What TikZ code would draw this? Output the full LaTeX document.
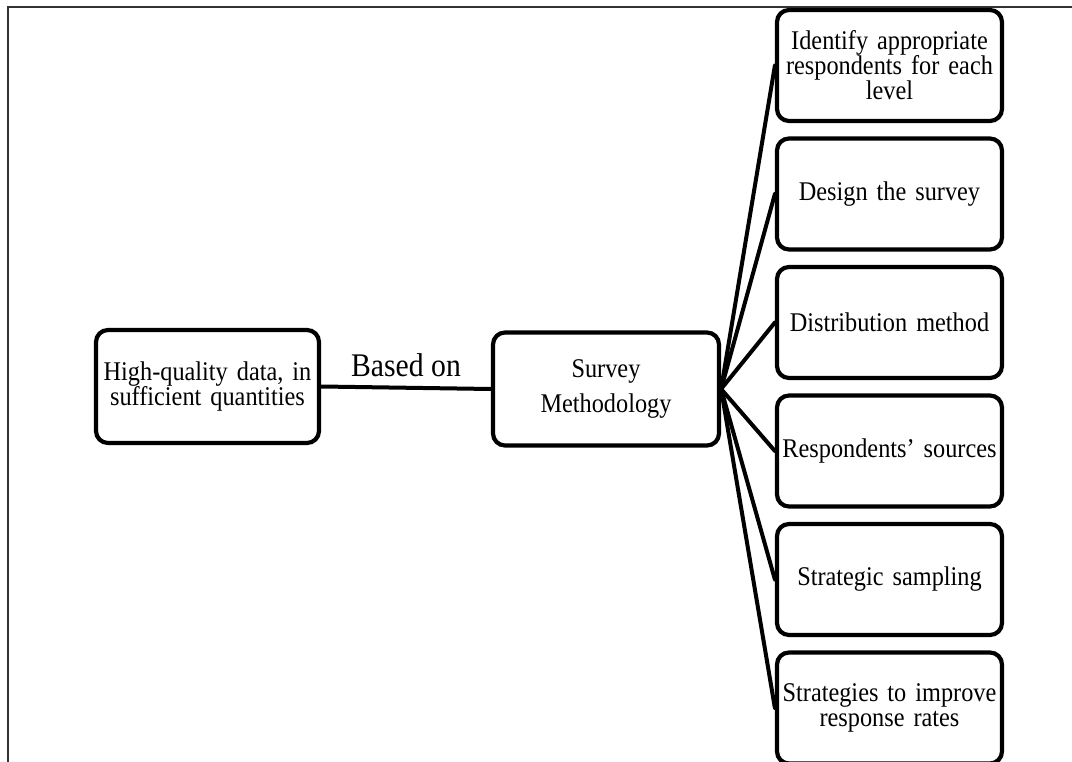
\documentclass[tikz,border=0pt]{standalone}
\usepackage{fontspec}
\setmainfont{Liberation Serif}[FakeStretch=0.9]
\begin{document}
\begin{tikzpicture}[x=1pt,y=-1pt,
  box/.style={draw=black, line width=4.2pt, rounded corners=12pt, fill=white,
    align=center, inner sep=4pt, font=\fontsize{27}{25}\selectfont},
  stepbox/.style={box, minimum width=225pt, minimum height=111pt, text width=215pt},
  link/.style={draw=black, line width=4pt, line cap=round}]
  \useasboundingbox (0,0) rectangle (1072,762);
  \clip (0,0) rectangle (1072,762);
  % outer frame
  \draw[line width=2pt, black!80] (8,770) -- (8,7) -- (1080,7);

  % main nodes
  \node[box, minimum width=221pt, minimum height=113pt, text width=215pt]
    (data) at (207.5,386.5) {High-quality data, in\\sufficient quantities};
  \node[box, minimum width=226pt, minimum height=113pt, text width=215pt,
    font=\fontsize{27}{35}\selectfont]
    (survey) at (606,389) {Survey\\Methodology};

  % steps of the methodology
  \node[stepbox] (s1) at (889.5,65.5)  {Identify appropriate\\respondents for each\\level};
  \node[stepbox] (s2) at (889.5,194)   {Design the survey};
  \node[stepbox] (s3) at (889.5,322.5) {Distribution method};
  \node[stepbox] (s4) at (889.5,451)   {Respondents’ sources};
  \node[stepbox] (s5) at (889.5,579.5) {Strategic sampling};
  \node[stepbox] (s6) at (889.5,708)   {Strategies to improve\\response rates};

  % connectors
  \draw[link] (data.east) -- node[above=6pt, font=\fontsize{33}{33}\selectfont] (lbl) {Based on} (survey.west);
  \foreach \n in {s1,s2,s3,s4,s5,s6}
    \draw[link] (survey.east) -- (\n.west);
\end{tikzpicture}
\end{document}
